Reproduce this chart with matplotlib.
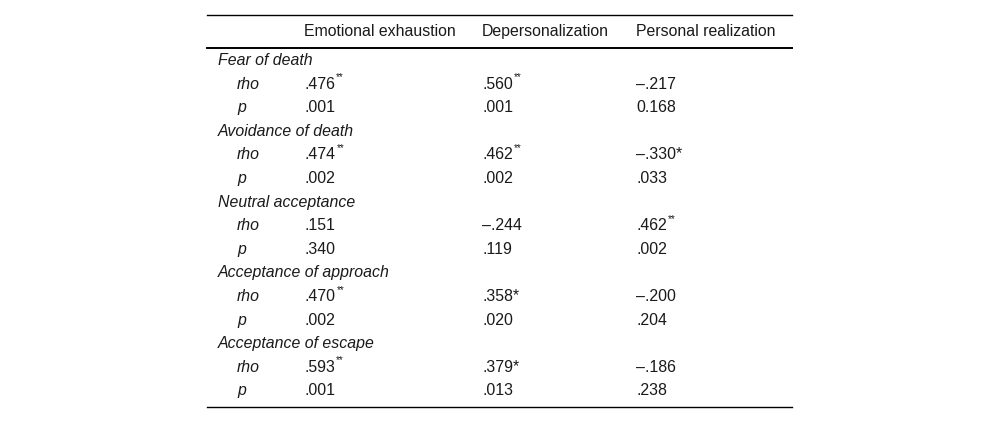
import matplotlib
matplotlib.use("Agg")
import matplotlib.pyplot as plt

plt.rcParams['font.family'] = ['Liberation Sans', 'DejaVu Sans']

# table content
columns = ["Emotional exhaustion", "Depersonalization", "Personal realization"]
groups = ["Fear of death", "Avoidance of death", "Neutral acceptance",
          "Acceptance of approach", "Acceptance of escape"]
stat_labels = ["rho", "p"]

rho_values = [
    [".476", ".560", "\u2013.217"],
    [".474", ".462", "\u2013.330*"],
    [".151", "\u2013.244", ".462"],
    [".470", ".358*", "\u2013.200"],
    [".593", ".379*", "\u2013.186"],
]
# superscript marks on rho values
rho_marks = [
    ["**", "**", ""],
    ["**", "**", ""],
    ["", "", "**"],
    ["**", "", ""],
    ["**", "", ""],
]
p_values = [
    [".001", ".001", "0.168"],
    [".002", ".002", ".033"],
    [".340", ".119", ".002"],
    [".002", ".020", ".204"],
    [".001", ".013", ".238"],
]

fig = plt.figure(figsize=(10, 4.23), dpi=100)
ax = fig.add_axes([0, 0, 1, 1])
ax.set_xlim(0, 1000)
ax.set_ylim(423, 0)
ax.axis("off")

fs = 11.4
col_x = [304, 482, 636]
group_x = 218
stat_x = 237
row_h = 23.6
txt_color = "#1a1a1a"

# rules
ax.plot([207, 792], [15, 15], color="black", lw=1)
ax.plot([207, 792], [48, 48], color="black", lw=1.4)
ax.plot([207, 792], [407, 407], color="black", lw=1)

for x, name in zip(col_x, columns):
    ax.text(x, 36, name, fontsize=fs, va="baseline", ha="left", color=txt_color)

y = 65
for g, name in enumerate(groups):
    ax.text(group_x, y, name, fontsize=fs, style="italic", va="baseline", color=txt_color)
    y += row_h
    rows = [(rho_values[g], rho_marks[g]), (p_values[g], ["", "", ""])]
    for s, (vals, marks) in zip(stat_labels, rows):
        ax.text(stat_x, y, s, fontsize=fs, style="italic", va="baseline", color=txt_color)
        for x, v, m in zip(col_x, vals, marks):
            t = ax.text(x, y, v, fontsize=fs, va="baseline", color=txt_color)
            if m:
                ax.annotate(m, xy=(1, 1), xycoords=t, xytext=(1, -0.5),
                            textcoords="offset points", fontsize=7,
                            va="center", ha="left", color=txt_color)
        y += row_h

fig.savefig("out.png", dpi=100, facecolor="white")
